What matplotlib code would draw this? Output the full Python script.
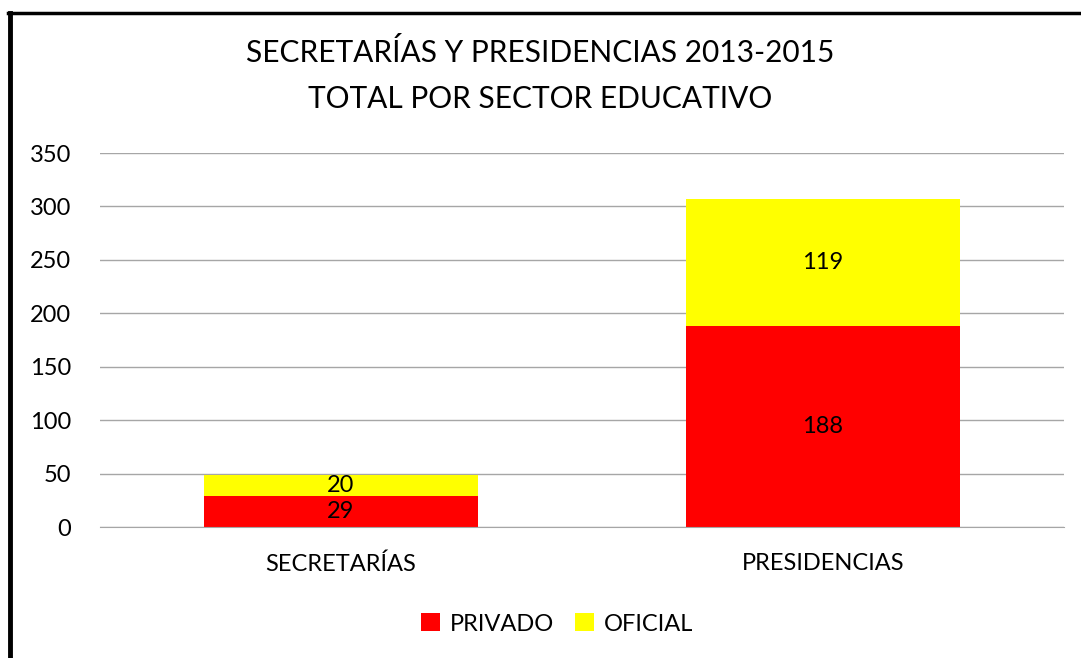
import matplotlib.pyplot as plt
from matplotlib.lines import Line2D

plt.rcParams['font.family'] = ['Lato', 'DejaVu Sans']

categories = ['SECRETARÍAS', 'PRESIDENCIAS']
privado = [29, 188]
oficial = [20, 119]
series_names = ['PRIVADO', 'OFICIAL']
colors = ['#ff0000', '#ffff00']

fig = plt.figure(figsize=(10.81, 6.58), dpi=100)
ax = fig.add_axes([100 / 1081, 1 - 527 / 658, 964 / 1081, 374 / 658])

x = range(len(categories))
b1 = ax.bar(x, privado, width=0.57, color=colors[0], label=series_names[0])
b2 = ax.bar(x, oficial, width=0.57, bottom=privado, color=colors[1], label=series_names[1])

for bars, vals, bottoms in [(b1, privado, [0, 0]), (b2, oficial, privado)]:
    for rect, v, b in zip(bars, vals, bottoms):
        ax.text(rect.get_x() + rect.get_width() / 2, b + v / 2, str(v),
                ha='center', va='center', fontsize=17, color='black')

ax.set_xlim(-0.5, 1.5)
ax.set_ylim(0, 350)
ax.set_yticks(range(0, 351, 50))
ax.set_xticks(list(x))
ax.set_xticklabels(categories)
ax.tick_params(axis='both', length=0, labelsize=17, colors='black')
ax.tick_params(axis='x', pad=19)
ax.tick_params(axis='y', pad=21)
ax.grid(axis='y', color='#a6a6a6', lw=1)
ax.set_axisbelow(True)
for s in ['top', 'right', 'left']:
    ax.spines[s].set_visible(False)
ax.spines['bottom'].set_color('#a6a6a6')

fig.text(0.5, 1 - 52 / 658, 'SECRETARÍAS Y PRESIDENCIAS 2013-2015', ha='center', va='center', fontsize=21.5)
fig.text(0.5, 1 - 99 / 658, 'TOTAL POR SECTOR EDUCATIVO', ha='center', va='center', fontsize=21.5)

fig.legend(handles=[b1, b2], loc='center', bbox_to_anchor=(557 / 1081, 1 - 624 / 658),
           ncol=2, frameon=False, fontsize=17, handlelength=0.8, handleheight=0.8,
           handletextpad=0.4, columnspacing=0.9)

# page border (left and top)
fig.add_artist(Line2D([10 / 1081, 10 / 1081], [0, 1 - 13 / 658], color='black', lw=3.5,
                      transform=fig.transFigure))
fig.add_artist(Line2D([8 / 1081, 1], [1 - 13 / 658, 1 - 13 / 658], color='black', lw=2.5,
                      transform=fig.transFigure))

fig.savefig('out.png', dpi=100)
